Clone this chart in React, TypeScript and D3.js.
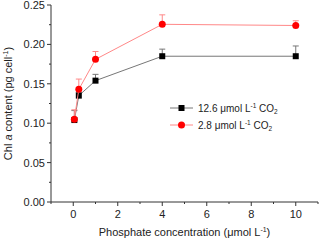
import * as d3 from 'd3';

const phosphate = [0.05, 0.25, 1, 4, 10];
const highCO2 = [0.104, 0.135, 0.154, 0.185, 0.185];
const highCO2Err = [0.012, 0.004, 0.008, 0.009, 0.013];
const lowCO2 = [0.105, 0.143, 0.181, 0.2255, 0.224];
const lowCO2Err = [0.012, 0.013, 0.01, 0.012, 0.006];
const xTicks = [0, 2, 4, 6, 8, 10];
const yTicks = [0, 0.05, 0.1, 0.15, 0.2, 0.25];

const W = 320;
const H = 240;
const margin = { top: 5, right: 2, bottom: 38, left: 51 };
const font = '"Liberation Sans", Arial, sans-serif';

const App = () => {
  const x = d3.scaleLinear().domain([-1, 11]).range([margin.left, W - margin.right]);
  const y = d3.scaleLinear().domain([0, 0.25]).range([H - margin.bottom, margin.top]);
  const line = d3
    .line<number>()
    .x((_, i) => x(phosphate[i]))
    .y((d) => y(d));

  const xMinor = d3.range(-1, 12, 1).filter((v) => v % 2 !== 0);
  const yMinor = d3.range(0.025, 0.25, 0.05);
  const axisColor = '#333';

  const series = [
    { name: '12.6', values: highCO2, err: highCO2Err, line: '#777', mark: '#000', shape: 'square' },
    { name: '2.8', values: lowCO2, err: lowCO2Err, line: '#f88', mark: '#f00', shape: 'circle' },
  ];

  const marker = (s: any, cx: number, cy: number, key: any) =>
    s.shape === 'square' ? (
      <rect key={key} x={cx - 3} y={cy - 3} width={6} height={6} fill={s.mark} />
    ) : (
      <circle key={key} cx={cx} cy={cy} r={3.5} fill={s.mark} />
    );

  return (
    <svg width={W} height={H} style={{ position: 'absolute', left: 0, top: 0 }} fontFamily={font}>
      <rect width={W} height={H} fill="#fff" />
      {/* axes */}
      <line x1={x(-1)} x2={x(11)} y1={y(0)} y2={y(0)} stroke={axisColor} />
      <line x1={x(-1)} x2={x(-1)} y1={y(0)} y2={y(0.25)} stroke={axisColor} />
      {xTicks.map((t) => (
        <g key={'xt' + t}>
          <line x1={x(t)} x2={x(t)} y1={y(0)} y2={y(0) + 4} stroke={axisColor} />
          <text x={x(t)} y={y(0) + 16} textAnchor="middle" fontSize={11} fill="#222">
            {t}
          </text>
        </g>
      ))}
      {xMinor.map((t) => (
        <line key={'xm' + t} x1={x(t)} x2={x(t)} y1={y(0)} y2={y(0) + 2} stroke={axisColor} />
      ))}
      {yTicks.map((t) => (
        <g key={'yt' + t}>
          <line x1={x(-1) - 4} x2={x(-1)} y1={y(t)} y2={y(t)} stroke={axisColor} />
          <text x={x(-1) - 6} y={y(t) + 4} textAnchor="end" fontSize={11} fill="#222">
            {d3.format('.2f')(t)}
          </text>
        </g>
      ))}
      {yMinor.map((t) => (
        <line key={'ym' + t} x1={x(-1) - 2} x2={x(-1)} y1={y(t)} y2={y(t)} stroke={axisColor} />
      ))}
      {/* axis labels */}
      <text x={(x(-1) + x(11)) / 2} y={H - 4} textAnchor="middle" fontSize={11} fill="#222">
        Phosphate concentration (μmol L
        <tspan fontSize={7} dy={-4}>-1</tspan>
        <tspan dy={4}>)</tspan>
      </text>
      <text
        transform={`translate(12,${(y(0) + y(0.25)) / 2}) rotate(-90)`}
        textAnchor="middle"
        fontSize={11}
        fill="#222"
      >
        Chl <tspan fontStyle="italic">a</tspan> content (pg cell
        <tspan fontSize={7} dy={-4}>-1</tspan>
        <tspan dy={4}>)</tspan>
      </text>
      {/* series */}
      {series.map((s) => (
        <g key={s.name}>
          <path d={line(s.values) || ''} fill="none" stroke={s.line} strokeWidth={1} />
          {s.values.map((v, i) => (
            <g key={i}>
              <line x1={x(phosphate[i])} x2={x(phosphate[i])} y1={y(v)} y2={y(v + s.err[i])} stroke={s.line} />
              <line
                x1={x(phosphate[i]) - 3}
                x2={x(phosphate[i]) + 3}
                y1={y(v + s.err[i])}
                y2={y(v + s.err[i])}
                stroke={s.line}
              />
            </g>
          ))}
          {s.values.map((v, i) => marker(s, x(phosphate[i]), y(v), 'm' + i))}
        </g>
      ))}
      {/* legend */}
      {series.map((s, i) => {
        const ly = 108 + i * 17;
        return (
          <g key={'lg' + s.name}>
            <line x1={170} x2={193} y1={ly} y2={ly} stroke={s.line} />
            {marker(s, 181.5, ly, 'lm')}
            <text x={198} y={ly + 3.5} fontSize={10} fill="#222">
              {s.name} μmol L<tspan fontSize={6.5} dy={-4}>-1</tspan>
              <tspan dy={4}> CO</tspan>
              <tspan fontSize={6.5} dy={2.5}>2</tspan>
            </text>
          </g>
        );
      })}
    </svg>
  );
};

export default App;
